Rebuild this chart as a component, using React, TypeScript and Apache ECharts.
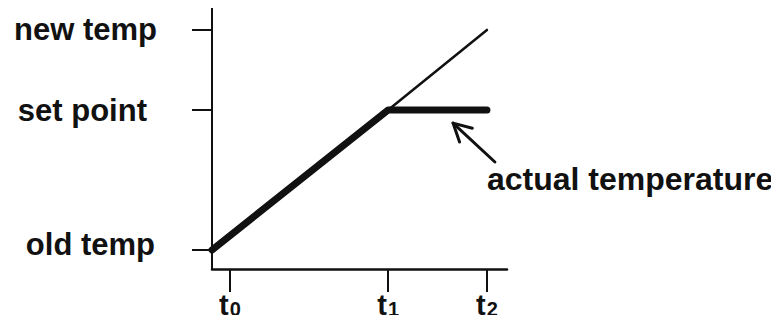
import { useEffect, useRef } from "react";
import * as echarts from "echarts";

// Temperature levels on the vertical axis (0–100 scale)
const levelValues = [7.3, 60.9, 91.6];
const levelNames = ["old temp", "set point", "new temp"];
const levelStyles = ["old", "set", "neu"];

// Time marks on the horizontal axis (0–100 scale)
const timeValues = [6.1, 59.7, 93.2];
const timeSubs = ["0", "1", "2"];

// Thick line: actual temperature, rising then holding at the set point
const actualX = [0, 59.7, 93.2];
const actualY = [7.3, 60.9, 60.9];

// Thin line: where the temperature would go without the set point
const targetX = [59.7, 93.2];
const targetY = [60.9, 91.6];

// Annotation arrow (tail -> tip) in data coordinates, and its caption
const arrowTail = [95.9, 41.0];
const arrowTip = [81.7, 55.9];
const captionText = "actual temperature";
const captionAt = [93.2, 28.5];

const INK = "#111";
const FONT = '"Liberation Sans", Arial, Helvetica, sans-serif';

export default function App() {
  const ref = useRef<HTMLDivElement>(null);

  useEffect(() => {
    if (!ref.current) return;
    const chart = echarts.init(ref.current, undefined, { renderer: "svg" });

    const findIdx = (arr: number[], v: number) =>
      arr.findIndex((a) => Math.abs(a - v) < 1e-6);

    chart.setOption({
      animation: false,
      backgroundColor: "#fff",
      grid: { left: 212, right: 272, top: 8, bottom: 54, containLabel: false },
      xAxis: {
        type: "value",
        min: 0,
        max: 100,
        splitLine: { show: false },
        axisLine: { show: true, lineStyle: { color: INK, width: 2.5 } },
        axisTick: {
          show: true,
          inside: false,
          length: 23,
          customValues: timeValues,
          lineStyle: { color: INK, width: 2 },
        },
        axisLabel: {
          show: true,
          margin: 21,
          customValues: timeValues,
          formatter: (v: number) => {
            const i = findIdx(timeValues, v);
            return i < 0 ? "" : `{t|t}{s|${timeSubs[i]}}`;
          },
          rich: {
            t: {
              fontFamily: FONT,
              fontWeight: "bold",
              fontSize: 29,
              lineHeight: 29,
              color: INK,
            },
            s: {
              fontFamily: FONT,
              fontWeight: "bold",
              fontSize: 20,
              lineHeight: 20,
              color: INK,
              padding: [9, 0, 0, 1],
            },
          },
        },
      },
      yAxis: {
        type: "value",
        min: 0,
        max: 100,
        splitLine: { show: false },
        axisLine: { show: true, lineStyle: { color: INK, width: 2 } },
        axisTick: {
          show: true,
          inside: false,
          length: 20,
          customValues: levelValues,
          lineStyle: { color: INK, width: 2 },
        },
        axisLabel: {
          show: true,
          margin: 55,
          align: "right",
          customValues: levelValues,
          formatter: (v: number) => {
            const i = findIdx(levelValues, v);
            return i < 0 ? "" : `{${levelStyles[i]}|${levelNames[i]}}`;
          },
          rich: {
            neu: { fontFamily: FONT, fontWeight: "bold", fontSize: 31, color: INK },
            set: {
              fontFamily: FONT,
              fontWeight: "bold",
              fontSize: 31,
              color: INK,
              padding: [0, 10, 0, 0],
            },
            old: {
              fontFamily: FONT,
              fontWeight: "bold",
              fontSize: 31,
              color: INK,
              padding: [0, 2, 10, 0],
            },
          },
        },
      },
      series: [
        {
          type: "line",
          data: targetX.map((x, i) => [x, targetY[i]]),
          showSymbol: false,
          symbol: "none",
          lineStyle: { color: INK, width: 2.5, cap: "round" },
          z: 2,
        },
        {
          type: "line",
          data: actualX.map((x, i) => [x, actualY[i]]),
          showSymbol: false,
          symbol: "none",
          lineStyle: { color: INK, width: 7, cap: "round", join: "round" },
          z: 3,
        },
      ],
    });

    // Arrow and caption placed from data coordinates
    const tip = chart.convertToPixel({ gridIndex: 0 }, arrowTip) as number[];
    const tail = chart.convertToPixel({ gridIndex: 0 }, arrowTail) as number[];
    const cap = chart.convertToPixel({ gridIndex: 0 }, captionAt) as number[];
    const ang = Math.atan2(tail[1] - tip[1], tail[0] - tip[0]);
    const armLen = 20;
    const spread = (28 * Math.PI) / 180;
    const arm = (d: number) => [
      tip[0] + armLen * Math.cos(ang + d),
      tip[1] + armLen * Math.sin(ang + d),
    ];

    chart.setOption({
      graphic: [
        {
          type: "line",
          shape: { x1: tail[0], y1: tail[1], x2: tip[0], y2: tip[1] },
          style: { stroke: INK, lineWidth: 3, lineCap: "round" },
        },
        {
          type: "polyline",
          shape: { points: [arm(spread), tip, arm(-spread)] },
          style: { stroke: INK, lineWidth: 3, fill: null, lineCap: "round", lineJoin: "round" },
        },
        {
          type: "text",
          x: cap[0],
          y: cap[1],
          style: {
            text: captionText,
            fill: INK,
            font: `bold 32px ${FONT}`,
            align: "left",
            verticalAlign: "bottom",
          },
        },
      ],
    });

    return () => chart.dispose();
  }, []);

  return <div ref={ref} style={{ width: 779, height: 323, margin: -8 }} />;
}
